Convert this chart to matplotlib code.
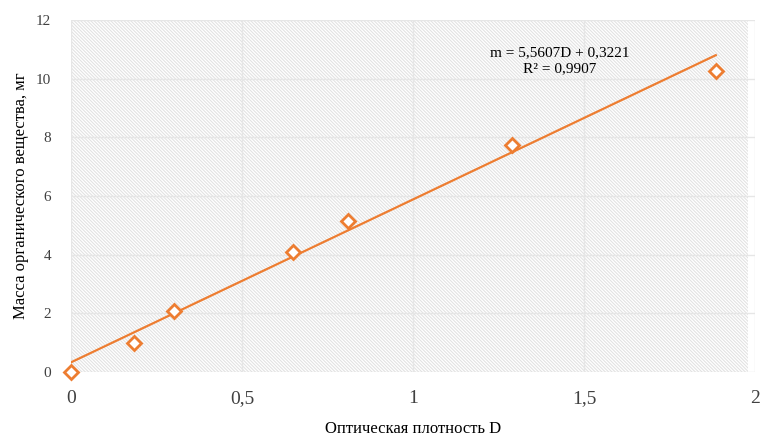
import matplotlib.pyplot as plt
import numpy as np
from matplotlib.patches import Rectangle
from matplotlib.ticker import FuncFormatter

# данные калибровки
D = [0.0, 0.185, 0.30, 0.65, 0.81, 1.29, 1.885]
m = [0.0, 1.0, 2.07, 4.1, 5.15, 7.75, 10.27]
k, b = 5.5607, 0.3221
eq_text = "m = 5,5607D + 0,3221\nR² = 0,9907"

ORANGE = '#ED7D31'

plt.rcParams['font.family'] = ['Liberation Serif', 'DejaVu Serif']
plt.rcParams['hatch.linewidth'] = 0.8
plt.rcParams['hatch.color'] = '#e2e2e2'

fig = plt.figure(figsize=(7.62, 4.38), dpi=100)
ax = fig.add_axes([0.093, 0.151, 0.898, 0.803])

ax.add_patch(Rectangle((0, 0), 0.99, 1, transform=ax.transAxes, facecolor='white',
                       edgecolor='#e2e2e2', hatch='\\' * 10, linewidth=0, zorder=0))

xs = np.array([0, D[-1]])
ax.plot(xs, k * xs + b, color=ORANGE, linewidth=1.6, zorder=3)
ax.plot(D, m, linestyle='none', marker='D', markersize=7, markerfacecolor='white',
        markeredgecolor=ORANGE, markeredgewidth=2, zorder=4, clip_on=False)

ax.text(1.43, 10.6, eq_text, ha='center', va='center', fontsize=11,
        linespacing=1.3, zorder=5)

ax.set_xlim(0, 2)
ax.set_ylim(0, 12)
ax.set_xticks([0, 0.5, 1, 1.5, 2])
ax.set_yticks(range(0, 13, 2))
ax.xaxis.set_major_formatter(FuncFormatter(lambda v, p: f'{v:g}'.replace('.', ',')))
ax.tick_params(axis='x', labelsize=14, length=0, pad=13, colors='#404040')
ax.tick_params(axis='y', labelsize=11, length=0, pad=14, colors='#404040')
ax.grid(True, color='#e6e6e6', linewidth=1)
ax.set_axisbelow(True)
for s in ax.spines.values():
    s.set_visible(False)

ax.set_xlabel('Оптическая плотность D', fontsize=12, labelpad=10)
ax.set_ylabel('Масса органического вещества, мг', fontsize=12, labelpad=5)

fig.savefig('out.png', dpi=100)
